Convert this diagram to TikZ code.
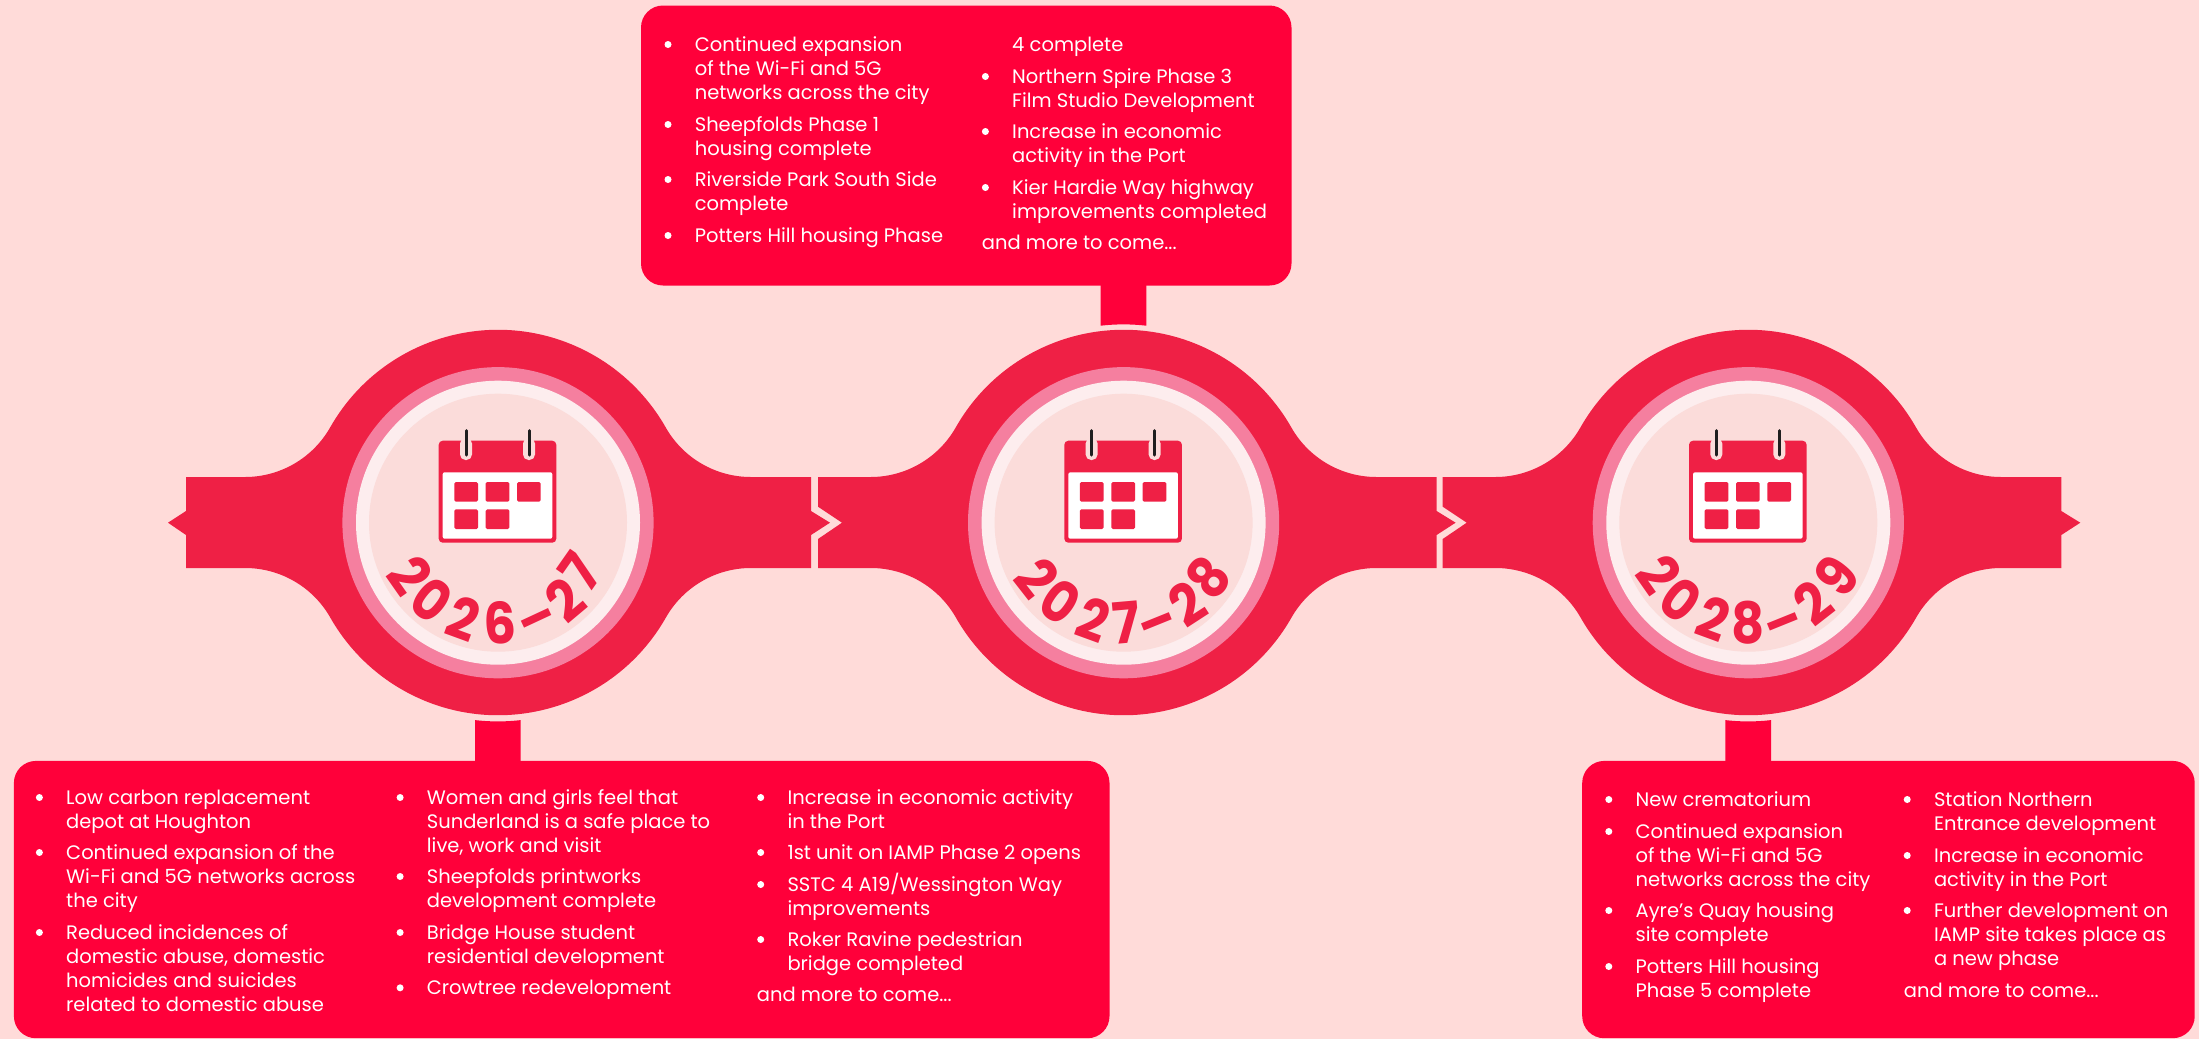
\documentclass[tikz,border=0pt]{standalone}
\usepackage{fontspec}
\setmainfont{Poppins}
\definecolor{bgc}{HTML}{FFDBD9}
\definecolor{bandc}{HTML}{EF2045}
\definecolor{boxc}{HTML}{FF003A}
\definecolor{ringp}{HTML}{F57F9F}
\definecolor{ringw}{HTML}{FDEDEE}
\definecolor{innerc}{HTML}{FBDCDA}
\definecolor{clipc}{HTML}{1F1F1F}
\tikzset{
  infobox/.style={fill=boxc,rounded corners=22pt,inner sep=0pt,anchor=north west},
  stubfill/.style={fill=boxc},
  ringnode/.style={circle,inner sep=0pt,minimum size=#1},
  txt/.style={text=white,inner sep=0pt,anchor=base west,align=left,font=\fontsize{19.5}{24}\selectfont},
  bulletdot/.style={circle,fill=white,inner sep=0pt,minimum size=7pt},
  yr/.style={text=bandc,inner sep=0pt,anchor=center,font=\fontsize{57}{59}\selectfont\bfseries},
}
% name, text x, first baseline, number of lines, text
\newcommand\para[5]{%
  \node[bulletdot] (#1b) at ({#2-26.6},{#3-6.5}) {};
  \node[txt] (#1) at (#2,{#3+24*(#4-1)}) {#5};
}
% band: c, left end points
\newcommand\bandbody[2]{%
  \begin{scope}[shift={(#1,0)}]
    \fill[bandc] (-253,477)
      arc[start angle=90,end angle=29.6,radius=97.9]
      arc[start angle=-150.4,end angle=-29.6,radius=193]
      arc[start angle=150.4,end angle=90,radius=97.9]
      -- (313,477) -- (313,511) -- (332,522.7) -- (313,535) -- (313,568) -- (253,568)
      arc[start angle=-90,end angle=-150.4,radius=97.9]
      arc[start angle=29.6,end angle=150.4,radius=193]
      arc[start angle=-29.6,end angle=-90,radius=97.9]
      -- #2 -- cycle;
  \end{scope}%
}
\newcommand\rings[2]{%
  \node[ringnode=311.2pt,fill=ringp] (ring#2) at (#1,522.7) {};
  \node[ringnode=284pt,fill=ringw] (mid#2) at (#1,522.7) {};
  \node[ringnode=258pt,fill=innerc] (core#2) at (#1,522.7) {};
}
\newcommand\calicon[1]{%
  \begin{scope}[shift={(#1,0)}]
    \fill[bandc,rounded corners=4pt] (-59.3,440.7) rectangle (58.3,542.7);
    \fill[white,rounded corners=2pt] (-55.3,472.3) rectangle (54.3,538.7);
    \foreach \xa in {-43.7,-12.3,19}{
      \fill[bandc,rounded corners=1.5pt] (\xa,482) rectangle ({\xa+23.7},501.7);
    }
    \foreach \xa in {-43.7,-12.3}{
      \fill[bandc,rounded corners=1.5pt] (\xa,509.3) rectangle ({\xa+23.7},529);
    }
    \foreach \xa in {-32,31}{
      \fill[innerc,rounded corners=5.5pt] ({\xa-6},438) rectangle ({\xa+6},460);
      \draw[clipc,line width=3pt,line cap=round] (\xa,430.5) -- (\xa,455);
    }
  \end{scope}%
}
\newcommand\yrc[5]{\node[yr,rotate=#4] (#1) at (#2,#3) {\scalebox{0.9}[1]{#5}};}
\newcommand\yrd[4]{\node[yr,rotate=#4] (#1) at (#2,#3) {\vphantom{0}\raisebox{3.8pt}{\scalebox{0.95}[0.95]{–}}};}
\begin{document}
\begin{tikzpicture}[x=1pt,y=-1pt]
\useasboundingbox (0,0) rectangle (2199,1039);
\fill[bgc] (0,0) rectangle (2199,1039);

% bands
\bandbody{498}{(-312,568) -- (-312,535) -- (-330,522.7) -- (-312,511) -- (-312,477)}
\bandbody{1123.6}{(-305.6,568) -- (-305.6,539) -- (-281.6,522.7) -- (-305.6,506.7) -- (-305.6,477)}
\bandbody{1748.3}{(-305.6,568) -- (-305.6,539) -- (-281.6,522.7) -- (-305.6,506.7) -- (-305.6,477)}

\rings{498}{1}
\rings{1123.6}{2}
\rings{1748.3}{3}

\calicon{498}
\calicon{1123.6}
\calicon{1748.3}

% years
\yrc{ya1}{410}{575.3}{-55}{2}
\yrc{ya2}{431.7}{600.3}{-38}{0}
\yrc{ya3}{464}{619}{-20}{2}
\yrc{ya4}{500.3}{623}{2}{6}
\yrd{ya5}{537.3}{620}{25}
\yrc{ya6}{565}{600}{40}{2}
\yrc{ya7}{580}{571.7}{55}{7}

\yrc{yb1}{1037.3}{577.7}{-52}{2}
\yrc{yb2}{1060.7}{602}{-35}{0}
\yrc{yb3}{1093.3}{620}{-20}{2}
\yrc{yb4}{1126.3}{623}{5}{7}
\yrd{yb5}{1157}{623}{22}
\yrc{yb6}{1186.7}{604}{33}{2}
\yrc{yb7}{1208}{577}{50}{8}

\yrc{yc1}{1659.3}{574.7}{-55}{2}
\yrc{yc2}{1681}{600}{-38}{0}
\yrc{yc3}{1713.7}{618.3}{-20}{2}
\yrc{yc4}{1748.3}{623}{0}{8}
\yrd{yc5}{1783.7}{623}{22}
\yrc{yc6}{1812.7}{602.3}{38}{2}
\yrc{yc7}{1836.3}{575.7}{52}{9}

% boxes
\node[infobox,minimum width=1095.6pt,minimum height=277.3pt] (box1) at (13.7,760.7) {};
\node[infobox,minimum width=650.5pt,minimum height=280pt] (box2) at (640.8,5.3) {};
\node[infobox,minimum width=612.5pt,minimum height=277.3pt] (box3) at (1582,760.7) {};

% stubs
\fill[stubfill] (ring1.south |- box1.north) ++(-23,1) -- ++(0,-41.6) arc[start angle=96.6,end angle=83.4,radius=199] -- ++(0,41.6) -- cycle;
\fill[stubfill] (ring3.south |- box3.north) ++(-23,1) -- ++(0,-41.6) arc[start angle=96.6,end angle=83.4,radius=199] -- ++(0,41.6) -- cycle;
\fill[stubfill] (ring2.north |- box2.south) ++(-23,-1) -- ++(0,41) arc[start angle=-96.6,end angle=-83.4,radius=199] -- ++(0,-41) -- cycle;

% box 1
\para{a1}{66}{804}{2}{Low carbon replacement\\depot at Houghton}
\para{a2}{66}{859}{3}{Continued expansion of the\\Wi-Fi and 5G networks across\\the city}
\para{a3}{66}{939}{4}{Reduced incidences of\\domestic abuse, domestic\\homicides and suicides\\related to domestic abuse}
\para{a4}{426.7}{804}{3}{Women and girls feel that\\Sunderland is a safe place to\\live, work and visit}
\para{a5}{426.7}{883}{2}{Sheepfolds printworks\\development complete}
\para{a6}{426.7}{939}{2}{Bridge House student\\residential development}
\para{a7}{426.7}{994.3}{1}{Crowtree redevelopment}
\para{a8}{787.3}{804}{2}{Increase in economic activity\\in the Port}
\para{a9}{787.3}{859}{1}{1st unit on IAMP Phase 2 opens}
\para{a10}{787.3}{891}{2}{SSTC 4 A19/Wessington Way\\improvements}
\para{a11}{787.3}{946}{2}{Roker Ravine pedestrian\\bridge completed}
\node[txt] (a12) at (756.7,1001.7) {and more to come...};

% box 2
\para{b1}{694.6}{51}{3}{Continued expansion\\of the Wi-Fi and 5G\\networks across the city}
\para{b2}{694.6}{131}{2}{Sheepfolds Phase 1\\housing complete}
\para{b3}{694.6}{186}{2}{Riverside Park South Side\\complete}
\para{b4}{694.6}{242}{1}{Potters Hill housing Phase}
\node[txt] (b5) at (1012,51) {4 complete};
\para{b6}{1012}{83}{2}{Northern Spire Phase 3\\Film Studio Development}
\para{b7}{1012}{138}{2}{Increase in economic\\activity in the Port}
\para{b8}{1012}{194}{2}{Kier Hardie Way highway\\improvements completed}
\node[txt] (b9) at (981.7,249) {and more to come...};

% box 3
\para{c1}{1635.4}{806}{1}{New crematorium}
\para{c2}{1635.4}{838}{3}{Continued expansion\\of the Wi-Fi and 5G\\networks across the city}
\para{c3}{1635.4}{917}{2}{Ayre’s Quay housing\\site complete}
\para{c4}{1635.4}{973}{2}{Potters Hill housing\\Phase 5 complete}
\para{c5}{1933.8}{806}{2}{Station Northern\\Entrance development}
\para{c6}{1933.8}{862}{2}{Increase in economic\\activity in the Port}
\para{c7}{1933.8}{917}{3}{Further development on\\IAMP site takes place as\\a new phase}
\node[txt] (c8) at (1903.7,997) {and more to come...};
\end{tikzpicture}
\end{document}
